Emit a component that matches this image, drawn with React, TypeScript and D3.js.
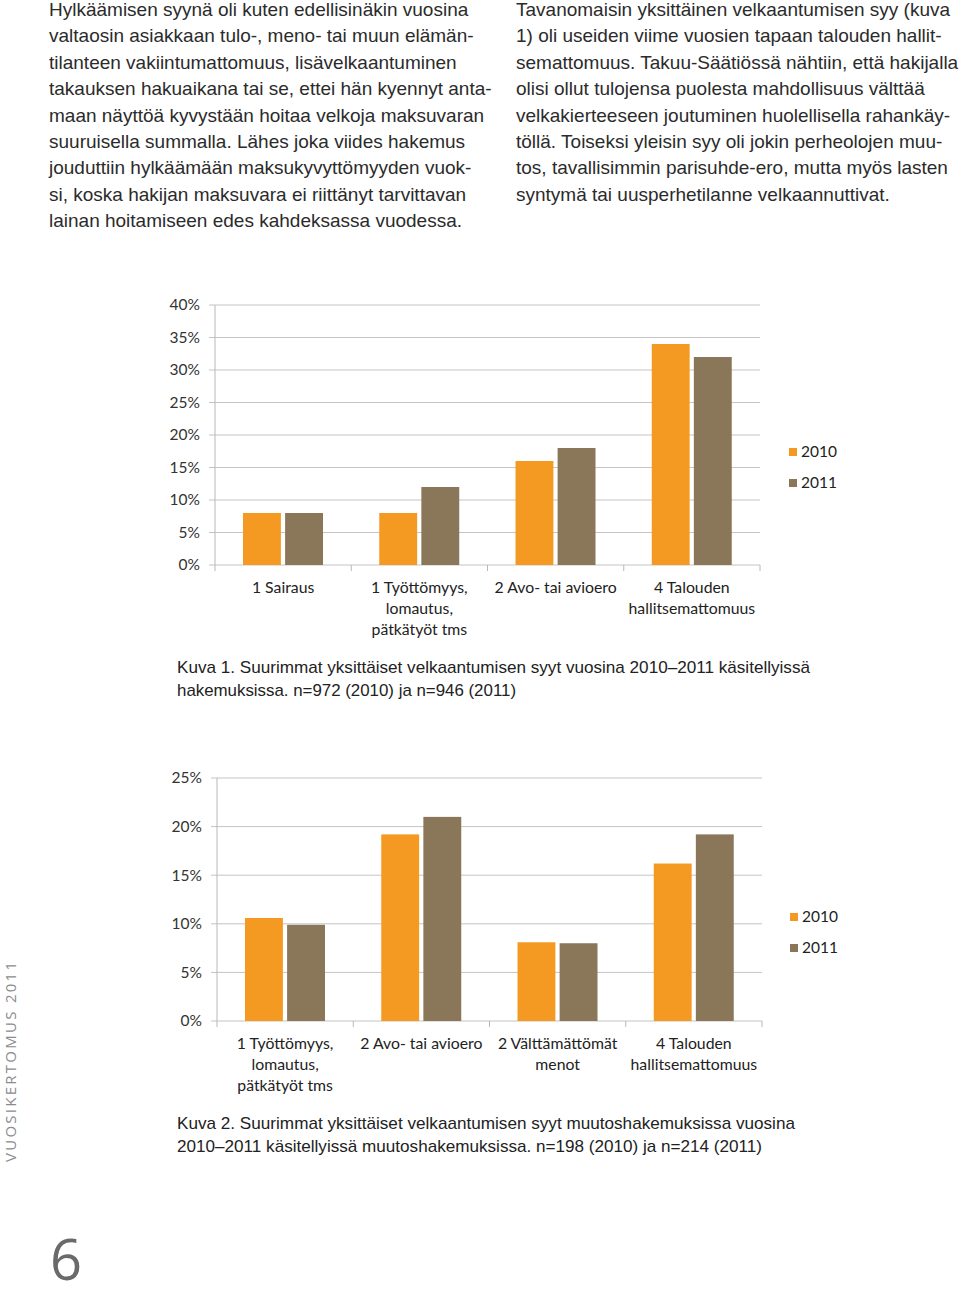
import React from 'react';
import * as d3 from 'd3';

const seriesNames = ['2010', '2011'];
const seriesColors = ['#f49a22', '#8a775a'];

const chart1Categories = ['1 Sairaus', '1 Työttömyys,\nlomautus,\npätkätyöt tms', '2 Avo- tai avioero', '4 Talouden\nhallitsemattomuus'];
const chart1Values2010 = [8, 8, 16, 34];
const chart1Values2011 = [8, 12, 18, 32];
const chart1Ticks = [0, 5, 10, 15, 20, 25, 30, 35, 40];

const chart2Categories = ['1 Työttömyys,\nlomautus,\npätkätyöt tms', '2 Avo- tai avioero', '2 Välttämättömät\nmenot', '4 Talouden\nhallitsemattomuus'];
const chart2Values2010 = [10.6, 19.2, 8.1, 16.2];
const chart2Values2011 = [9.9, 21.0, 8.0, 19.2];
const chart2Ticks = [0, 5, 10, 15, 20, 25];

const leftColumn = [
  'Hylkäämisen syynä oli kuten edellisinäkin vuosina',
  'valtaosin asiakkaan tulo-, meno- tai muun elämän-',
  'tilanteen vakiintumattomuus, lisävelkaantuminen',
  'takauksen hakuaikana tai se, ettei hän kyennyt anta-',
  'maan näyttöä kyvystään hoitaa velkoja maksuvaran',
  'suuruisella summalla. Lähes joka viides hakemus',
  'jouduttiin hylkäämään maksukyvyttömyyden vuok-',
  'si, koska hakijan maksuvara ei riittänyt tarvittavan',
  'lainan hoitamiseen edes kahdeksassa vuodessa.',
];
const rightColumn = [
  'Tavanomaisin yksittäinen velkaantumisen syy (kuva',
  '1) oli useiden viime vuosien tapaan talouden hallit-',
  'semattomuus. Takuu-Säätiössä nähtiin, että hakijalla',
  'olisi ollut tulojensa puolesta mahdollisuus välttää',
  'velkakierteeseen joutuminen huolellisella rahankäy-',
  'töllä. Toiseksi yleisin syy oli jokin perheolojen muu-',
  'tos, tavallisimmin parisuhde-ero, mutta myös lasten',
  'syntymä tai uusperhetilanne velkaannuttivat.',
];
const caption1 = [
  'Kuva 1. Suurimmat yksittäiset velkaantumisen syyt vuosina 2010–2011 käsitellyissä',
  'hakemuksissa. n=972 (2010) ja n=946 (2011)',
];
const caption2 = [
  'Kuva 2. Suurimmat yksittäiset velkaantumisen syyt muutoshakemuksissa vuosina',
  '2010–2011 käsitellyissä muutoshakemuksissa. n=198  (2010) ja n=214 (2011)',
];
const caption1Widths = [633, 339];
const caption2Widths = [618, 585];
const sideText = 'VUOSIKERTOMUS 2011';
const pageNumber = '6';

const chartFont = 'Lato, "Open Sans", sans-serif';
const bodyFont = '"Liberation Sans", Arial, sans-serif';

type ChartProps = {
  x0: number; x1: number; y0: number; y1: number; max: number;
  ticks: number[]; categories: string[]; values: number[][];
  legendX: number; legendY: number;
};

function BarChart({ x0, x1, y0, y1, max, ticks, categories, values, legendX, legendY }: ChartProps) {
  const x = d3.scaleBand<string>().domain(categories).range([x0, x1]).padding(0);
  const inner = d3.scaleBand<string>().domain(seriesNames).range([28, 108]).paddingInner(0.1);
  const y = d3.scaleLinear().domain([0, max]).range([y0, y1]);
  const bounds = categories.map((c) => x(c) as number).concat([x1]);
  return (
    <g>
      {ticks.map((t) => (
        <g key={t}>
          <line x1={x0 - 6} x2={x1} y1={y(t)} y2={y(t)} stroke="#c4c4c4" strokeWidth={1} />
          <text x={x0 - 15} y={y(t)} dy="0.35em" textAnchor="end" fontFamily={chartFont} fontSize={15.5} fill="#333">{t}%</text>
        </g>
      ))}
      <line x1={x0} x2={x0} y1={y0} y2={y1} stroke="#b8b8b8" strokeWidth={1} />
      {bounds.map((b, i) => (
        <line key={i} x1={b} x2={b} y1={y0} y2={y0 + 6} stroke="#b8b8b8" strokeWidth={1} />
      ))}
      {categories.map((c, ci) => (
        <g key={c}>
          {seriesNames.map((s, si) => (
            <rect key={s} x={(x(c) as number) + (inner(s) as number)} width={inner.bandwidth()}
              y={y(values[si][ci])} height={y(0) - y(values[si][ci])} fill={seriesColors[si]} />
          ))}
          {c.split('\n').map((ln, li) => (
            <text key={li} x={(x(c) as number) + x.bandwidth() / 2} y={y0 + 28 + li * 21} textAnchor="middle"
              fontFamily={chartFont} fontSize={15.8} fill="#222">{ln}</text>
          ))}
        </g>
      ))}
      {seriesNames.map((s, si) => (
        <g key={s}>
          <rect x={legendX} y={legendY + si * 31 - 4} width={8} height={8} fill={seriesColors[si]} />
          <text x={legendX + 12} y={legendY + si * 31} dy="0.35em" fontFamily={chartFont} fontSize={15.5} fill="#222">{s}</text>
        </g>
      ))}
    </g>
  );
}

export default function App() {
  return (
    <svg width={960} height={1298} style={{ position: 'absolute', left: 0, top: 0, background: '#fff' }}>
      <rect width={960} height={1298} fill="#fff" />
      {leftColumn.map((l, i) => (
        <text key={'l' + i} x={49} y={16 + i * 26.4} fontFamily={bodyFont} fontSize={19} fill="#2b2b2b">{l}</text>
      ))}
      {rightColumn.map((l, i) => (
        <text key={'r' + i} x={516} y={16 + i * 26.4} fontFamily={bodyFont} fontSize={19} fill="#2b2b2b">{l}</text>
      ))}
      <BarChart x0={215} x1={760} y0={565} y1={305} max={40} ticks={chart1Ticks}
        categories={chart1Categories} values={[chart1Values2010, chart1Values2011]} legendX={789} legendY={452} />
      {caption1.map((l, i) => (
        <text key={'c1' + i} x={177} y={673 + i * 23} fontFamily={bodyFont} fontSize={17} fill="#222"
          textLength={caption1Widths[i]} lengthAdjust="spacingAndGlyphs">{l}</text>
      ))}
      <BarChart x0={217} x1={762} y0={1021} y1={778} max={25} ticks={chart2Ticks}
        categories={chart2Categories} values={[chart2Values2010, chart2Values2011]} legendX={790} legendY={917} />
      {caption2.map((l, i) => (
        <text key={'c2' + i} x={177} y={1129 + i * 23} fontFamily={bodyFont} fontSize={17} fill="#222"
          textLength={caption2Widths[i]} lengthAdjust="spacingAndGlyphs">{l}</text>
      ))}
      <text transform="translate(16,1162) rotate(-90)" fontFamily='"Open Sans", sans-serif' fontSize={15}
        fill="#8c8c8c" textLength={200} lengthAdjust="spacing">{sideText}</text>
      <text x={50} y={1280} fontFamily='"Open Sans", sans-serif' fontSize={56} fill="#6a6a6a">{pageNumber}</text>
    </svg>
  );
}
